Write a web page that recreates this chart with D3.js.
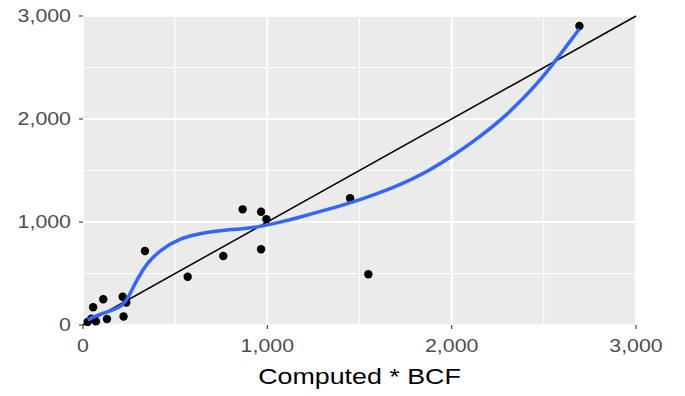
<!DOCTYPE html>
<html>
<head>
<meta charset="utf-8">
<script src="https://cdn.jsdelivr.net/npm/d3@7"></script>
<style>
  body { margin: 0; background: #fff; }
  text { font-family: "Liberation Sans", Arial, sans-serif; }
</style>
</head>
<body>
<svg id="chart" width="685" height="396"></svg>
<script>

var computed = [25, 45, 55, 70, 110, 130, 215, 235, 220, 336, 568, 761, 866, 966, 995, 966, 1449, 1548, 2693];
var observed = [30, 60, 172, 35, 250, 58, 275, 218, 82, 718, 469, 670, 1123, 1100, 1026, 735, 1230, 492, 2903];

// smooth curve (loess)
var smoothX = [25, 60, 110, 170, 215, 246, 291, 346, 418, 526, 635, 743, 852, 960, 1069, 1141, 1322, 1503, 1683, 1865, 2045, 2117, 2299, 2479, 2570, 2678, 2693];
var smoothY = [50, 80, 114, 150, 190, 265, 437, 599, 728, 842, 890, 916, 932, 954, 998, 1030, 1118, 1215, 1330, 1480, 1690, 1780, 2030, 2370, 2580, 2840, 2875];

var majorTicks = [0, 1000, 2000, 3000];
var minorTicks = [500, 1500, 2500];
var tickLabels = ["0", "1,000", "2,000", "3,000"];
var xTitle = "Computed * BCF";

var svg = d3.select("#chart");
var pLeft = 83, pRight = 636, pTop = 16, pBottom = 325;
var stretch = 1.22; // picture text is wider than normal

var xScale = d3.scaleLinear().domain([0, 3000]).range([pLeft, pRight]);
var yScale = d3.scaleLinear().domain([0, 3000]).range([pBottom, pTop]);

// panel
svg.append("rect")
    .attr("x", pLeft).attr("y", pTop)
    .attr("width", pRight - pLeft).attr("height", pBottom - pTop)
    .style("fill", "#ebebeb");

var grid = svg.append("g");
minorTicks.forEach(function(t) {
    grid.append("line").attr("x1", xScale(t)).attr("x2", xScale(t))
	.attr("y1", pTop).attr("y2", pBottom)
	.style("stroke", "#fff").style("stroke-width", 1);
    grid.append("line").attr("y1", yScale(t)).attr("y2", yScale(t))
	.attr("x1", pLeft).attr("x2", pRight)
	.style("stroke", "#fff").style("stroke-width", 1);
});
majorTicks.forEach(function(t) {
    grid.append("line").attr("x1", xScale(t)).attr("x2", xScale(t))
	.attr("y1", pTop).attr("y2", pBottom)
	.style("stroke", "#fff").style("stroke-width", 2);
    grid.append("line").attr("y1", yScale(t)).attr("y2", yScale(t))
	.attr("x1", pLeft).attr("x2", pRight)
	.style("stroke", "#fff").style("stroke-width", 2);
});

// 1:1 line
var refLine = [0, 3000];
svg.append("line")
    .attr("x1", xScale(refLine[0])).attr("y1", yScale(refLine[0]))
    .attr("x2", xScale(refLine[1])).attr("y2", yScale(refLine[1]))
    .style("stroke", "#000").style("stroke-width", 1.5);

// points
var pts = computed.map(function(c, i) { return [c, observed[i]]; });
svg.append("g").selectAll("circle")
    .data(pts)
    .enter()
    .append("circle")
    .attr("cx", function(d) { return xScale(d[0]); })
    .attr("cy", function(d) { return yScale(d[1]); })
    .attr("r", 4.2)
    .style("fill", "#000");

// smooth line
var sm = smoothX.map(function(x, i) { return [x, smoothY[i]]; });
var line = d3.line()
    .x(function(d) { return xScale(d[0]); })
    .y(function(d) { return yScale(d[1]); })
    .curve(d3.curveBasis);
svg.append("path")
    .datum(sm)
    .attr("d", line)
    .style("fill", "none")
    .style("stroke", "#3366ff")
    .style("stroke-width", 3.5);

// axes
var axes = svg.append("g");
majorTicks.forEach(function(t, i) {
    axes.append("line").attr("x1", pLeft - 4).attr("x2", pLeft)
	.attr("y1", yScale(t)).attr("y2", yScale(t))
	.style("stroke", "#333").style("stroke-width", 1.1);
    axes.append("line").attr("y1", pBottom).attr("y2", pBottom + 4)
	.attr("x1", xScale(t)).attr("x2", xScale(t))
	.style("stroke", "#333").style("stroke-width", 1.1);

    axes.append("text")
	.attr("transform", "translate(" + (pLeft - 12) + "," + (yScale(t) + 6) + ") scale(" + stretch + ",1)")
	.attr("text-anchor", "end")
	.style("font-size", "17.5px")
	.style("fill", "#4d4d4d")
	.text(tickLabels[i]);
    axes.append("text")
	.attr("transform", "translate(" + xScale(t) + "," + (pBottom + 27) + ") scale(" + stretch + ",1)")
	.attr("text-anchor", "middle")
	.style("font-size", "17.5px")
	.style("fill", "#4d4d4d")
	.text(tickLabels[i]);
});

svg.append("text")
    .attr("transform", "translate(" + ((pLeft + pRight) / 2) + ",384) scale(" + stretch + ",1)")
    .attr("text-anchor", "middle")
    .style("font-size", "22px")
    .style("fill", "#000")
    .text(xTitle);

</script>
</body>
</html>
